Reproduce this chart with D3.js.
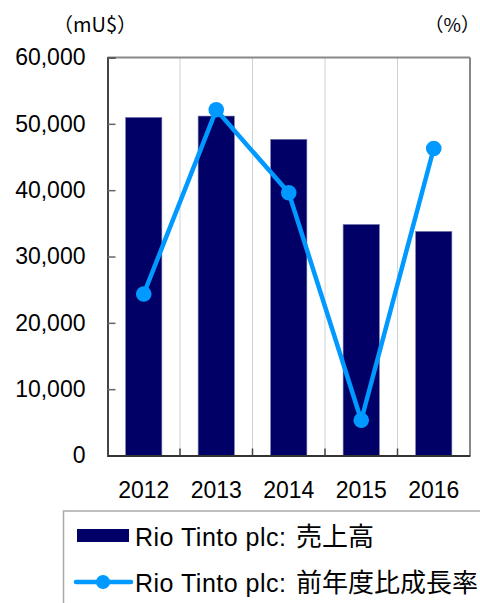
<!DOCTYPE html>
<html><head><meta charset="utf-8">
<script src="https://cdn.jsdelivr.net/npm/d3@7/dist/d3.min.js"></script>
<style>
html,body{margin:0;padding:0;background:#fff;}
svg{display:block;}
svg text{font-family:"Liberation Sans","Noto Sans CJK JP",sans-serif;fill:#000;}
svg .jp{font-family:"Noto Sans CJK JP","Liberation Sans",sans-serif;}
</style></head>
<body>
<svg id="c" width="480" height="603"></svg>
<script>
const years = ["2012","2013","2014","2015","2016"];
const sales = [50967, 51171, 47664, 34829, 33781];
const growth = [-15.8, 0.4, -6.9, -26.9, -3.0];
const leftTicks = [0, 10000, 20000, 30000, 40000, 50000, 60000];
const seriesPrefix = "Rio Tinto plc:";
const salesName = "売上高";
const growthName = "前年度比成長率";

const svg = d3.select("#c");
const L = 107.5, R = 470, T = 57.5, B = 455.5;

const x = d3.scaleBand().domain(years).range([L, R]).paddingInner(0).paddingOuter(0);
const y = d3.scaleLinear().domain([0, 60000]).range([B, T]);
const y2 = d3.scaleLinear().domain([-30, 5]).range([B, T]);

// vertical gridlines
svg.append("g").selectAll("line").data(years.slice(1)).join("line")
  .attr("x1", d => x(d)).attr("x2", d => x(d))
  .attr("y1", T).attr("y2", B)
  .attr("stroke", "#d0d0d0").attr("stroke-width", 1);

// top & right border
svg.append("line").attr("x1", L).attr("x2", R).attr("y1", T).attr("y2", T)
  .attr("stroke", "#888").attr("stroke-width", 2);
svg.append("line").attr("x1", R).attr("x2", R).attr("y1", T).attr("y2", B)
  .attr("stroke", "#888").attr("stroke-width", 2);

// bars
const bw = x.bandwidth() * 0.5;
svg.append("g").selectAll("rect").data(sales).join("rect")
  .attr("x", (d, i) => x(years[i]) + (x.bandwidth() - bw) / 2)
  .attr("width", bw)
  .attr("y", d => y(d))
  .attr("height", d => B - y(d))
  .attr("fill", "#000066")
  .attr("stroke", "#7a7ab0").attr("stroke-width", 0.6);

// left axis
const la = svg.append("g").attr("transform", `translate(${L},0)`)
  .call(d3.axisLeft(y).tickValues(leftTicks).tickSize(-8).tickPadding(22)
    .tickFormat(d3.format(",")));
la.attr("font-family", null);
la.select(".domain").attr("stroke", "#444").attr("stroke-width", 2);
la.selectAll(".tick line").attr("stroke", "#666").attr("stroke-width", 1.5);
la.selectAll("text").style("font-size", "23px").attr("fill", "#000");

// bottom axis
const ba = svg.append("g").attr("transform", `translate(0,${B})`)
  .call(d3.axisBottom(x).tickSize(0).tickPadding(26));
ba.attr("font-family", null);
ba.select(".domain").attr("stroke", "#333").attr("stroke-width", 2);
ba.selectAll("text").style("font-size", "23px").attr("fill", "#000");
svg.append("g").selectAll("line").data(years.slice(1)).join("line")
  .attr("x1", d => x(d)).attr("x2", d => x(d))
  .attr("y1", B).attr("y2", B - 7)
  .attr("stroke", "#444").attr("stroke-width", 1.5);

// line series
const cx = (d, i) => x(years[i]) + x.bandwidth() / 2;
svg.append("path").datum(growth)
  .attr("d", d3.line().x(cx).y(d => y2(d)))
  .attr("fill", "none").attr("stroke", "#0099ff").attr("stroke-width", 4.5)
  .attr("stroke-linejoin", "round");
svg.append("g").selectAll("circle").data(growth).join("circle")
  .attr("cx", cx).attr("cy", d => y2(d)).attr("r", 7.8)
  .attr("fill", "#0099ff");

// unit labels
svg.append("text").attr("class", "jp").attr("x", 53).attr("y", 32)
  .style("font-size", "20px").text("（mU$）");
svg.append("text").attr("class", "jp").attr("x", 480).attr("y", 32)
  .attr("text-anchor", "end")
  .style("font-size", "19px").text("（%）");

// legend
svg.append("rect").attr("x", 63.5).attr("y", 511).attr("width", 440).attr("height", 120)
  .attr("fill", "#fff").attr("stroke", "#aaa").attr("stroke-width", 1.5);
svg.append("rect").attr("x", 77).attr("y", 529).attr("width", 52).attr("height", 13)
  .attr("fill", "#000066");
const t1 = svg.append("text").attr("x", 135).attr("y", 546);
t1.append("tspan").style("font-size", "25px").style("letter-spacing", "0.5px").text(seriesPrefix);
t1.append("tspan").attr("class", "jp").attr("x", 296).style("font-size", "26px").text(salesName);

svg.append("line").attr("x1", 76).attr("x2", 131).attr("y1", 582).attr("y2", 582)
  .attr("stroke", "#0099ff").attr("stroke-width", 4.5).attr("stroke-linecap", "round");
svg.append("circle").attr("cx", 103).attr("cy", 582).attr("r", 7).attr("fill", "#0099ff");
const t2 = svg.append("text").attr("x", 135).attr("y", 592);
t2.append("tspan").style("font-size", "25px").style("letter-spacing", "0.5px").text(seriesPrefix);
t2.append("tspan").attr("class", "jp").attr("x", 296).style("font-size", "26px").text(growthName);
</script>
</body></html>
